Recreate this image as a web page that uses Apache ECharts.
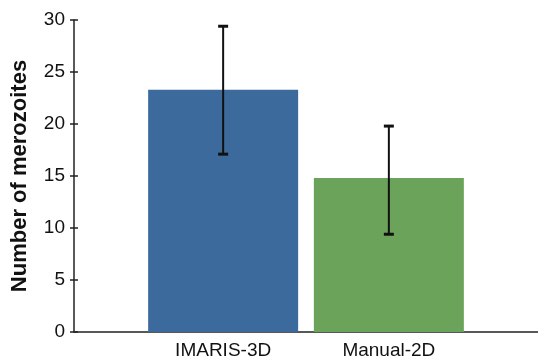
<!DOCTYPE html>
<html>
<head>
<meta charset="utf-8">
<script src="https://cdn.jsdelivr.net/npm/echarts@6/dist/echarts.min.js"></script>
<style>
html,body{margin:0;padding:0;background:#fff;}
#chart{width:538px;height:358px;}
</style>
</head>
<body>
<div id="chart"></div>
<script>
var categories = ['IMARIS-3D', 'Manual-2D'];
var means = [23.3, 14.8];
var errLow = [17.1, 9.4];
var errHigh = [29.4, 19.8];
var barColors = ['#3d6a9c', '#6ca35a'];
var yTicks = [0, 5, 10, 15, 20, 25, 30];

var FONT = '"Liberation Sans", Arial, Helvetica, sans-serif';

var barData = means.map(function (v, i) {
  return { value: [i, v], itemStyle: { color: barColors[i] } };
});
var errData = means.map(function (v, i) {
  return [i, errLow[i], errHigh[i]];
});

var chart = echarts.init(document.getElementById('chart'));
chart.setOption({
  animation: false,
  grid: { left: 74, top: 20, right: 0, bottom: 26, containLabel: false, outerBoundsMode: 'none' },
  xAxis: {
    type: 'value',
    min: -0.9,
    max: 1.9,
    axisLine: { show: true, onZero: false, lineStyle: { color: '#222', width: 1.5 } },
    axisTick: { show: false },
    splitLine: { show: false },
    axisLabel: {
      customValues: [0, 1],
      margin: 9,
      fontFamily: FONT,
      fontSize: 19,
      color: '#111',
      formatter: function (v) { return categories[Math.round(v)] || ''; }
    }
  },
  yAxis: [
    {
      type: 'value',
      min: 0,
      max: 30,
      interval: 5,
      name: 'Number of merozoites',
      nameLocation: 'middle',
      nameGap: 43,
      nameTextStyle: { fontFamily: FONT, fontSize: 22, fontWeight: 'bold', color: '#111' },
      axisLine: { show: true, onZero: false, lineStyle: { color: '#222', width: 1.5 } },
      axisTick: { show: false },
      splitLine: { show: false },
      axisLabel: {
        margin: 9,
        fontFamily: FONT,
        fontSize: 19,
        color: '#111',
        formatter: function (v) { return yTicks.indexOf(v) >= 0 ? String(v) : ''; }
      }
    },
    {
      type: 'value',
      position: 'left',
      offset: -4,
      min: 0,
      max: 30,
      interval: 5,
      axisLine: { show: false, onZero: false },
      axisTick: { show: true, inside: false, length: 8, lineStyle: { color: '#222', width: 1.5 } },
      axisLabel: { show: false },
      splitLine: { show: false }
    }
  ],
  series: [
    {
      type: 'bar',
      data: barData,
      barWidth: 150,
      xAxisIndex: 0,
      yAxisIndex: 0
    },
    {
      type: 'custom',
      data: errData,
      xAxisIndex: 0,
      yAxisIndex: 0,
      z: 5,
      renderItem: function (params, api) {
        var x = api.value(0);
        var lo = api.coord([x, api.value(1)]);
        var hi = api.coord([x, api.value(2)]);
        var hw = 5;
        var st = { stroke: '#111', lineWidth: 2 };
        var cap = { stroke: '#111', lineWidth: 3 };
        return {
          type: 'group',
          children: [
            { type: 'line', shape: { x1: hi[0], y1: hi[1], x2: lo[0], y2: lo[1] }, style: st },
            { type: 'line', shape: { x1: hi[0] - hw, y1: hi[1], x2: hi[0] + hw, y2: hi[1] }, style: cap },
            { type: 'line', shape: { x1: lo[0] - hw, y1: lo[1], x2: lo[0] + hw, y2: lo[1] }, style: cap }
          ]
        };
      }
    }
  ]
});
</script>
</body>
</html>
